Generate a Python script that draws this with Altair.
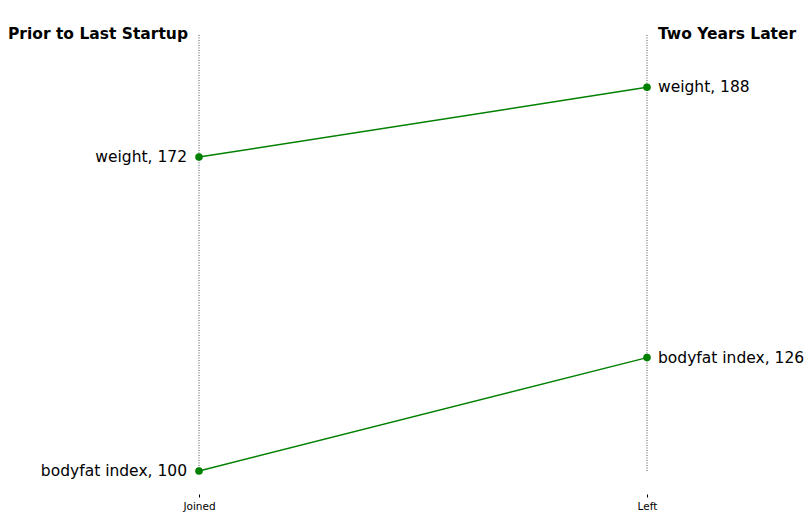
import altair as alt
import pandas as pd

metrics = ["weight", "bodyfat index"]
before = [172, 100]
after = [188, 126]
tick_labels = ["Joined", "Left"]
x_positions = [1, 3]
headers = ["Prior to Last Startup", "Two Years Later"]
rule_range = [100, 200]

rows = []
for m, b, a in zip(metrics, before, after):
    rows.append({"metric": m, "x": x_positions[0], "value": b, "label": f"{m}, {b}"})
    rows.append({"metric": m, "x": x_positions[1], "value": a, "label": f"{m}, {a}"})
df = pd.DataFrame(rows)

rules = pd.DataFrame({"x": x_positions, "y1": [rule_range[0]] * 2, "y2": [rule_range[1]] * 2})
heads = pd.DataFrame({"x": x_positions, "y": [rule_range[1]] * 2, "text": headers})

label_expr = f"datum.value == {x_positions[0]} ? '{tick_labels[0]}' : '{tick_labels[1]}'"

xscale = alt.Scale(domain=[0.1473, 3.7009], nice=False, zero=False)
yscale = alt.Scale(domain=[94.72, 206.19], nice=False, zero=False)

x_enc = alt.X("x:Q", scale=xscale,
              axis=alt.Axis(values=x_positions, labelExpr=label_expr, domain=False, grid=False,
                            title=None, tickSize=3, tickColor="black", labelFontSize=10.5,
                            labelFont="DejaVu Sans", labelColor="black", labelPadding=4))
y_enc = alt.Y("value:Q", scale=yscale, axis=None)

rule = alt.Chart(rules).mark_rule(color="#222", strokeDash=[1, 1.5], strokeWidth=0.8).encode(
    x=x_enc, y=alt.Y("y1:Q", scale=yscale, axis=None), y2="y2:Q")

lines = alt.Chart(df).mark_line(color="green", strokeWidth=1.5).encode(
    x=x_enc, y=y_enc, detail="metric:N")

pts = alt.Chart(df).mark_circle(color="green", size=58, opacity=1).encode(x=x_enc, y=y_enc)

left_lbl = alt.Chart(df[df.x == x_positions[0]]).mark_text(
    align="right", baseline="middle", dx=-12, fontSize=15.5, font="DejaVu Sans", color="black"
).encode(x=x_enc, y=y_enc, text="label:N")

right_lbl = alt.Chart(df[df.x == x_positions[1]]).mark_text(
    align="left", baseline="middle", dx=11, fontSize=15.5, font="DejaVu Sans", color="black"
).encode(x=x_enc, y=y_enc, text="label:N")

head_left = alt.Chart(heads[heads.x == x_positions[0]]).mark_text(
    align="right", baseline="middle", dx=-11, dy=-1, fontSize=15.5, fontWeight="bold",
    font="DejaVu Sans", color="black"
).encode(x=x_enc, y=alt.Y("y:Q", scale=yscale, axis=None), text="text:N")

head_right = alt.Chart(heads[heads.x == x_positions[1]]).mark_text(
    align="left", baseline="middle", dx=11, dy=-1, fontSize=15.5, fontWeight="bold",
    font="DejaVu Sans", color="black"
).encode(x=x_enc, y=alt.Y("y:Q", scale=yscale, axis=None), text="text:N")

chart = alt.layer(rule, lines, pts, left_lbl, right_lbl, head_left, head_right).properties(
    width=796, height=486,
    autosize=alt.AutoSizeParams(type="none"),
    padding={"left": 0, "top": 0, "right": 0, "bottom": 24},
).configure_view(stroke=None)

chart.save("out.html", embed_options={"renderer": "svg", "actions": False})
